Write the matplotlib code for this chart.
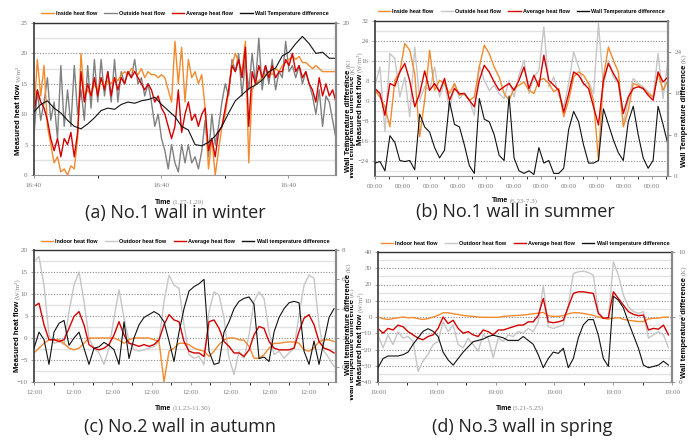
import numpy as np
import matplotlib
matplotlib.use("Agg")
import matplotlib.pyplot as plt
from matplotlib.lines import Line2D
from matplotlib.transforms import Bbox, TransformedBbox

plt.rcParams['font.family'] = 'Liberation Serif'

W, H = 699, 445
BOLD = ['Liberation Sans', 'DejaVu Sans']

ORANGE = '#f28a2e'
GRAY_DARK = '#808080'
GRAY_LIGHT = '#c6c6c6'
RED = '#d40000'
BLACK = '#111111'

# -------------------------------
# (a) No.1 wall in winter  (hours, 1.27-1.29)
# -------------------------------
a_span = 57
a_inside = [10, 19, 13, 18, 8, 5, 2, 3, 0.5, 1, 0, 1.5, 1, 6, 20, 13, 14, 13, 15, 14,
            16, 14.5, 15.5, 15, 16, 15.5, 16.5, 17, 16.5, 17.5, 17, 16.5, 17.5, 16, 17,
            16.5, 16.5, 16, 16.5, 16, 14, 12, 22, 15, 21, 12, 19, 16, 17, 15, 16.5, 11,
            1, 6, 0, 4, 8, 10, 14, 18, 20, 18.5, 17, 22, 2, 14, 15, 15.5, 16, 16.5, 17,
            16.5, 17.5, 17, 18, 18.5, 19, 19.5, 19, 19.5, 18.5, 18.5, 18, 17.5, 18, 17.5,
            17, 17, 17, 17, 17]
a_outside = [6.5, 14, 9, 12, 16, 9, 12, 6, 18, 8, 14, 8, 18, 10, 14, 9, 18, 11, 19, 12,
             19, 13, 17, 12, 19, 12, 17, 15, 17, 16, 19, 15, 16, 13, 15, 12, 8, 10, 6, 4,
             1, 5, 2, 0.5, 5, 2, 5, 2, 3, 1, 4, 9, 3, 10, 5, 8, 12, 15, 13, 19, 17, 20,
             13, 19, 14, 20, 15, 22.5, 14, 18, 15, 19, 14, 17, 16, 22, 17, 18, 16, 18, 15,
             17, 15, 13, 10, 14, 8, 13, 12, 9, 6]
a_average = [10, 14, 12, 11, 9, 6, 4, 6, 3, 6, 5, 7, 3, 7, 17, 12, 15, 13, 16, 13, 16,
             14, 17, 13, 16, 14, 16, 15, 17, 16, 17, 16, 15, 14, 15, 14, 12, 13, 11, 10,
             8, 6, 8, 14, 7, 10, 12, 9, 10, 8, 10, 11, 4, 6, 3, 7, 8, 11, 14, 18, 17, 19,
             16, 21, 8, 17, 15, 18, 16, 18, 16, 18, 16, 17, 17, 19, 18, 20, 17, 18, 16,
             17, 15, 14, 12, 16, 13, 15, 13, 14, 12]
a_wall = [12.7, 13.3, 13.6, 13.0, 12.6, 12.0, 11.5, 11.3, 11.7, 12.2, 12.8, 13.0, 12.9,
          13.3, 13.5, 13.4, 13.6, 13.7, 13.9, 13.3, 12.8, 12.3, 11.5, 11.2, 10.0, 9.9,
          10.2, 10.7, 11.5, 12.6, 13.6, 14.1, 14.6, 14.9, 15.3, 16.0, 16.3, 17.3, 17.6,
          18.3, 18.9, 18.3, 17.5, 17.6, 17.1, 17.1]

# -------------------------------
# (b) No.1 wall in summer  (days, 6.23-7.3)
# -------------------------------
b_span = 10.58
b_inside = [4.3, 1.6, -2.3, -10.3, 8.3, 11.6, 23, 20.3, 11, -14.3, 0.3, 20.3, 4.3, 8.3,
            7, 3, 7, 2.3, 3, 0.3, 1.6, 13.6, 22.3, 19, 13.6, 9.6, 3, 0.3, 5, 6.3, 7.6,
            4.3, 3, 8.3, 9, 7, 3.7, 5, -6.3, 0.3, 9.6, 11.6, 10.3, 7, 0.3, -23.6, 9.6,
            21.6, 16.3, 11.6, -10.3, -3.7, 7, 6.3, 5, 3, 1.6, 11, 4.3, 8.3]
b_outside = [6.3, 13.6, -12.3, 19, 17, 1.6, 9.6, -6.3, 21.6, 0.3, 5.7, 4.3, 13.6, 1.6,
             7.6, -3.7, 7, 1, 3, 0.3, -5.7, 14.3, 8.3, 4.3, 6.3, 3, 1, 8.3, 1.6, 10.3,
             16.3, 3, 9.6, 12.3, 29.6, 5.7, 9.6, 2.3, -2.3, 7, 19.6, 13.6, 6.3, 7.6, 3,
             31, 5.7, 16.3, 9.6, 7, -9, 0.3, 9, 7, 5.7, 3.7, 1.6, 19, 1, 16.3]
b_average = [5, 3, -5.7, 7, 6, 11.6, 15, 8, -2.3, 3, 12, 4.3, 7, 3.7, 9, 0.3, 5, 2.9, 3,
             0.3, -2.3, 8.3, 14.3, 11.6, 7.6, 4.3, 5.7, 7, 4.3, 8.3, 13.6, 5, 10.3, 5.7,
             18.3, 8.3, 6.3, 4.3, -4.5, 3, 11.6, 10.3, 7, 5, -2.3, -9.6, 8.3, 15, 11,
             7.6, -5, 1.6, 5, 5.7, 5, 2.3, 0.3, 11.6, 7.6, 9.6]
b_wall = [2.5, 2.8, 1.0, 7.8, 6.5, 3.0, 2.8, 3.0, 1.2, 12.0, 9.5, 8.5, 5.5, 3.5, 5.0,
          14.5, 10.0, 9.5, 6.0, 2.0, 0.5, 15.0, 11.0, 10.5, 8.0, 4.0, 3.0, 15.5, 3.5,
          1.0, 0.5, 1.0, 0.3, 5.5, 2.5, 3.0, 0.5, 0.5, 1.5, 9.0, 12.5, 10.5, 6.0, 2.5,
          2.5, 3.0, 13.0, 10.0, 7.0, 4.5, 3.0, 10.5, 13.5, 8.0, 3.5, 1.5, 3.0, 13.5,
          10.0, 6.0]

# -------------------------------
# (c) No.2 wall in autumn  (days, 11.23-11.30)
# -------------------------------
c_span = 7.65
c_indoor = [-3.4, -2.3, -1.2, -0.4, -0.4, -0.4, -1.2, -2.3, -2.7, -2.3, -1.2, 0, 0, 0, 0,
            0, 0, -0.5, -1.2, -0.4, 0, 0, 0, 0, -0.4, -0.8, -9.9, -3, -2.3, -1.2, -1.2,
            -1.5, -2.3, -2.7, -3, -4.2, -3, -1.5, -0.4, 0, 0, -0.4, -0.5, -1.9, -4.6,
            -4.6, -3.8, -2.3, -1.2, -1.2, -1, -0.9, -0.9, -1.2, -2.7, -3, -2.3, -0.8,
            -0.4, -0.4, -0.8]
c_outdoor = [17.4, 18.5, 12, 0.7, -1.2, -0.8, -1.5, 6, 12, 15, 8.3, -0.1, -2.3, -3.4, -6,
             -2.3, 4.5, 11, 4.5, -0.8, -2.7, -3, -2.7, -2.3, -1.9, -0.8, 8.3, 14.3, 12,
             11.3, 3, -3.8, -4.6, -4.2, -6.1, 6, 10.5, 9.8, 4.5, -4.6, -8.3, -3, -4.6,
             0.7, 8.3, 10.5, 9, 1.5, -3.8, -3, -4.6, -3.4, -2.3, 5.3, 12, 14.3, 13.6, 3,
             -3, -4.6, -6.5]
c_average = [7.2, 7.9, 3, -0.4, -0.4, -0.8, -0.4, 2.2, 4.9, 6, 3, -1.5, -2.3, -2.7, -2.3,
             -1.5, 0.7, 3.7, 0.7, -1.2, -1.5, -1.9, -1.5, -1.9, -1.5, -0.4, 3, 5.3, 4.1,
             3.7, -0.8, -3, -3.4, -3.4, -4.2, 3.7, 4.1, 2.2, -0.8, -1.9, -3.4, -3.4,
             -4.2, -2.7, 0.7, 2.6, 2.2, -0.8, -2.3, -2.7, -2.7, -2.7, -2.3, 1.5, 4.5,
             5.3, 3, -0.8, -2.3, -2.7, -3.4]
c_wall = [1.3, 2.4, 1.9, 0.2, 2.4, 3, 3.2, 1.5, 2, 2.4, 1.3, 0.2, 1.3, 1.4, 1.7, 1.5,
          1.2, 0.2, 3.1, 0.6, 2, 2.9, 3.4, 3.6, 3.8, 3.6, 3.1, 1.8, 0.4, 2.4, 4, 5.2,
          5.5, 5.7, 6, 1.1, 0.2, 0.3, 2.4, 3.1, 4, 4.5, 4.7, 4.8, 4.3, 0.6, 0.7, 0.4,
          2.4, 3.4, 4, 4.4, 4.5, 4.4, 1.1, 0.2, 1.8, 0.2, 1.8, 3.4, 4]

# -------------------------------
# (d) No.3 wall in spring  (days, 5.21-5.25)
# -------------------------------
d_span = 4.94
d_indoor = [0, -1, -1.5, -1, -0.5, 0, -0.5, -0.3, -1, -1.5, -1, 0, 1, 2.6, 2.6, 2, 1.5,
            1, 0.6, 0.4, 0, -0.2, -0.2, -0.2, -0.2, 0.4, 0.6, 0.8, 1, 1.2, 1.6, 2, 2.4,
            2.8, 0.8, 0.4, 0.4, 0.8, 2, 2.6, 2.6, 2.2, 1.6, 1, 0, -0.8, -1.2, -0.8, -0.4,
            -1.4, -2, -2.4, -2.8, -2.8, -1.2, -0.8, -0.6, -0.2, 0]
d_outdoor = [-11, -19, -11, -17, -9, -13, -12, -15, -33.5, -27, -23, -17, -15, -3, -9,
             -5, -17, -19, -13, -17, -21, -11, -13, -25, -13, -15, -11, -12, -9, -10,
             -7, -9, -3, 19.6, -6, -7, -6, -5, 7.3, 26.7, 27.8, 28.2, 27.4, 25.7, 3.3,
             -0.8, -1.2, 33.9, 25.7, 13.5, 6.3, 3.3, 2.2, 3.3, -13, -11, -9, -11, -19]
d_average = [-7, -10, -7, -8, -5, -6, -9, -11, -13, -14, -12, -11, -7, 0, -4, -2, -7,
             -10, -9, -11, -12, -8, -9, -11, -8, -8, -7, -6, -5, -5, -3, -3, 1, 11.4,
             -3, -3.5, -3, -2, 6.3, 14.5, 15.5, 15.5, 15, 14.5, 2.2, -0.8, -0.4, 15.5,
             11.4, 7.3, 3.3, 1.6, 0.8, 1.2, -8, -7, -7.5, -5, -11]
d_wall = [1.1, 1.8, 2, 2, 2, 2.1, 2.3, 2.9, 3.4, 3.9, 4.1, 3.9, 3.5, 2.3, 1.7, 1.3, 1.8,
          2.3, 2.7, 3.1, 3.2, 3.3, 3.5, 3.6, 3.5, 3.4, 3.2, 3.2, 3.2, 3.5, 3.2, 2.9, 2.1,
          1.1, 1.8, 2.3, 2.2, 2.6, 1.1, 1.8, 3.4, 4.4, 4.8, 4.8, 3.6, 1.8, 1.2, 6.6,
          6.3, 5.7, 4.6, 3.6, 2.6, 1.3, 1.1, 1.2, 1.3, 1.6, 1.3]

labels_ab = ['Inside heat flow', 'Outside heat flow', 'Average heat flow',
             'Wall Temperature difference']
labels_cd = ['Indoor heat flow', 'Outdoor heat flow', 'Average heat flow',
             'Wall temperature difference']

fig = plt.figure(figsize=(6.99, 4.45), dpi=100)


def px_rect(l, t, r, b):
    return [l / W, 1 - b / H, (r - l) / W, (b - t) / H]


def draw_panel(rect, span, xlim, inside, outside, average, wall, out_color, labels,
               ylim, ystep, yminor, rlim, rticks, xmajor, xminor, xticklabel, date):
    ax = fig.add_axes(rect)
    ax2 = ax.twinx()
    ax.set_zorder(1)
    ax2.set_zorder(2)

    t_in = np.linspace(0, span, len(inside))
    t_out = np.linspace(0, span, len(outside))
    t_avg = np.linspace(0, span, len(average))
    t_wall = np.linspace(0, span, len(wall))
    ax.plot(t_out, outside, color=out_color, lw=1.0)
    ax.plot(t_in, inside, color=ORANGE, lw=1.0)
    ax.plot(t_avg, average, color=RED, lw=1.0)
    ax2.plot(t_wall, wall, color=BLACK, lw=0.8)

    ax.set_xlim(*xlim)
    ax.set_yticks(np.arange(ylim[0] - ylim[0] % ystep, ylim[1] + 0.01, ystep))
    ax.set_yticks(np.arange(ylim[0] - ylim[0] % yminor, ylim[1] + 0.01, yminor), minor=True)
    ax.set_ylim(*ylim)
    ax2.set_ylim(*rlim)
    ax2.set_yticks(rticks)
    ax.set_xticks(xmajor, labels=[xticklabel] * len(xmajor))
    ax.set_xticks(xminor, minor=True)

    ax.grid(True, axis='y', which='minor', color='#e2e2e2', lw=1.0, ls='-')
    ax.grid(True, axis='y', which='major', color='#8a8a8a', lw=0.8, ls=(0, (1, 1.5)))
    ax.set_axisbelow(True)

    for a in (ax, ax2):
        a.tick_params(labelsize=5, labelcolor='#777777', color='#888888', length=2.5,
                      width=0.6)
    ax.tick_params(axis='y', which='minor', length=0)
    ax2.tick_params(axis='y', pad=2)
    ax.tick_params(axis='y', pad=2)

    ax.spines['top'].set(color='#333333', lw=1.0)
    ax.spines['bottom'].set(color='#999999', lw=0.8)
    ax.spines['left'].set(color='#555555', lw=1.4)
    ax.spines['right'].set_visible(False)
    for s in ('left', 'top', 'bottom'):
        ax2.spines[s].set_visible(False)
    ax2.spines['right'].set(color='#8a8a8a', lw=1.6)

    handles = [Line2D([], [], color=ORANGE, lw=1), Line2D([], [], color=out_color, lw=1),
               Line2D([], [], color=RED, lw=1), Line2D([], [], color=BLACK, lw=1)]
    ax2.legend(handles, labels, loc='lower center', bbox_to_anchor=(0.5, 1.03), ncol=4,
               frameon=False, prop=dict(family=BOLD, weight='bold', size=4),
               handlelength=2.2, handletextpad=0.4, columnspacing=1.3, borderaxespad=0)

    ax.text(0.455, date[1], 'Time', transform=ax.transAxes, ha='right', va='center',
            family=BOLD, weight='bold', size=5)
    ax.text(0.46, date[1], date[0], transform=ax.transAxes, ha='left', va='center',
            size=5, color='#888888')
    return ax, ax2


def vlabel(xp, yp, main, unit, clip=None):
    t = fig.text(xp / W, 1 - yp / H, main, rotation=90, ha='center', va='bottom',
                 family=BOLD, weight='bold', size=5.5)
    fig.canvas.draw()
    bb = t.get_window_extent(fig.canvas.get_renderer())
    u = fig.text(xp / W, (bb.y1 + 2) / H, unit, rotation=90,
                 ha='center', va='bottom', size=5, color='#888888')
    if clip is not None:
        box = TransformedBbox(Bbox.from_extents(*clip), fig.transFigure)
        for x in (t, u):
            x.set_clip_box(box)
            x.set_clip_on(True)


draw_panel(px_rect(34, 23, 336, 175), a_span, (0, a_span), a_inside, a_outside,
           a_average, a_wall, GRAY_DARK, labels_ab, (0, 25), 5, 2.5, (7.5, 20),
           [10, 15, 20], [0, 24, 48], [12, 36], '16:40', ('(1.27-1.29)', -0.18))
draw_panel(px_rect(375, 21, 668, 176), b_span, (0, b_span), b_inside, b_outside,
           b_average, b_wall, GRAY_LIGHT, labels_ab, (-30, 32), 8, 4, (0, 30),
           [0, 8, 16, 24], list(range(0, 11)), list(np.arange(0.5, 10.6, 1.0)),
           '00:00', ('(6.23-7.3)', -0.16))
draw_panel(px_rect(34, 250, 336, 382), c_span, (0, 7.7), c_indoor, c_outdoor,
           c_average, c_wall, GRAY_LIGHT, labels_cd, (-10, 20), 5, 2.5, (-1, 8),
           [0, 2, 4, 6, 8], list(range(0, 8)), list(np.arange(0.5, 7.6, 1.0)),
           '12:00', ('(11.23-11.30)', -0.2))
draw_panel(px_rect(378, 252, 672, 382), d_span, (0, 5), d_indoor, d_outdoor,
           d_average, d_wall, GRAY_LIGHT, labels_cd, (-40, 40), 10, 5, (0, 10),
           [0, 5, 10], list(range(0, 6)), list(np.arange(0.5, 5, 1.0)),
           '19:00', ('(5.21-5.25)', -0.2))

LEFT = (0, 0, 0.5, 1)
RIGHT = (0.5, 0, 1, 1)
vlabel(19, 155, 'Measured heat flow', 'W/m²')
vlabel(349, 172, 'Wall Temperature difference', '(K)', clip=LEFT)
vlabel(353, 178, 'Wall Temperature difference', '(K)', clip=RIGHT)
vlabel(360, 145, 'Measured heat flow', '(W/m²)')
vlabel(684, 167, 'Wall Temperature difference', '(K)')
vlabel(18, 372, 'Measured heat flow', '(W/m²)')
vlabel(349, 375, 'Wall temperature difference', '(K)', clip=LEFT)
vlabel(352, 400, 'Wall temperature difference', '(K)', clip=RIGHT)
vlabel(361, 385, 'Measured heat flow', '(W/m²)')
vlabel(684, 378, 'Wall temperature difference', '(K)')

cap = dict(family=['Open Sans', 'DejaVu Sans'], size=13, color='#222222',
           ha='center', va='center')
fig.text(175 / W, 1 - 213 / H, '(a) No.1 wall in winter', **cap)
fig.text(515 / W, 1 - 212 / H, '(b) No.1 wall in summer', **cap)
fig.text(180 / W, 1 - 427 / H, '(c) No.2 wall in autumn', **cap)
fig.text(522 / W, 1 - 427 / H, '(d) No.3 wall in spring', **cap)

fig.savefig('out.png', dpi=100)
